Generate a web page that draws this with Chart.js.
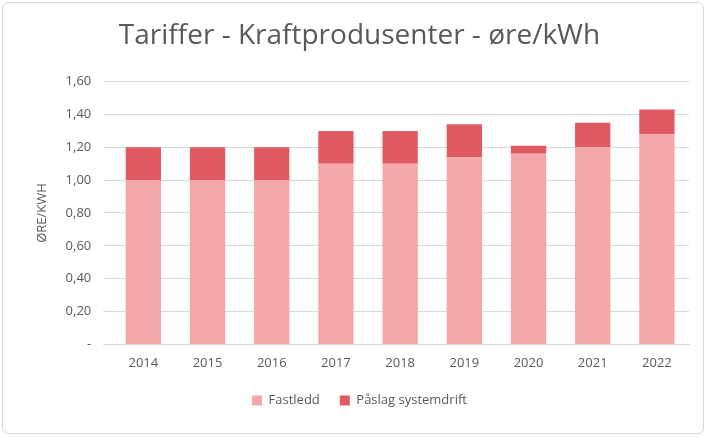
<!DOCTYPE html>
<html>
<head>
<meta charset="utf-8">
<script src="https://cdn.jsdelivr.net/npm/chart.js@4"></script>
<style>
  body { margin: 0; background: #fff; }
  #wrap { position: absolute; left: 2px; top: 2px; width: 702px; height: 432px; border: 1px solid #d9d9d9; border-radius: 6px; box-sizing: border-box; }
</style>
</head>
<body>
<div id="wrap"><canvas id="chart"></canvas></div>
<script>
const years = ['2014', '2015', '2016', '2017', '2018', '2019', '2020', '2021', '2022'];
const fastledd = [1.00, 1.00, 1.00, 1.10, 1.10, 1.14, 1.16, 1.20, 1.28];
const paslag = [0.20, 0.20, 0.20, 0.20, 0.20, 0.20, 0.05, 0.15, 0.15];

new Chart(document.getElementById('chart'), {
    type: 'bar',
    data: {
        labels: years,
        datasets: [
            { label: 'Fastledd', data: fastledd, backgroundColor: '#f4a7a9', barPercentage: 0.55, categoryPercentage: 1 },
            { label: 'Påslag systemdrift', data: paslag, backgroundColor: '#e05a63', barPercentage: 0.55, categoryPercentage: 1 }
        ]
    },
    options: {
        responsive: true,
        maintainAspectRatio: false,
        animation: false,
        layout: { padding: { left: 27, right: 14, top: 4, bottom: 16 } },
        plugins: {
            title: {
                display: true,
                text: 'Tariffer - Kraftprodusenter - øre/kWh',
                color: '#595959',
                font: { family: 'Open Sans', size: 28, weight: 'normal' },
                padding: { top: 12, bottom: 29 }
            },
            legend: {
                position: 'bottom',
                labels: { color: '#595959', font: { family: 'Open Sans', size: 13 }, boxWidth: 10, boxHeight: 10, padding: 20 }
            },
            tooltip: { enabled: false }
        },
        scales: {
            x: {
                stacked: true,
                grid: { display: false },
                border: { color: '#d9d9d9' },
                ticks: { color: '#595959', font: { family: 'Open Sans', size: 13 } }
            },
            y: {
                stacked: true,
                min: 0,
                max: 1.6,
                border: { display: false },
                grid: { color: '#d9d9d9' },
                title: { display: true, text: 'ØRE/KWH', color: '#595959', font: { family: 'Open Sans', size: 13 } },
                ticks: {
                    stepSize: 0.2,
                    padding: 12,
                    color: '#595959',
                    font: { family: 'Open Sans', size: 13 },
                    callback: v => v === 0 ? '-' : v.toFixed(2).replace('.', ',')
                }
            }
        }
    }
});
</script>
</body>
</html>
